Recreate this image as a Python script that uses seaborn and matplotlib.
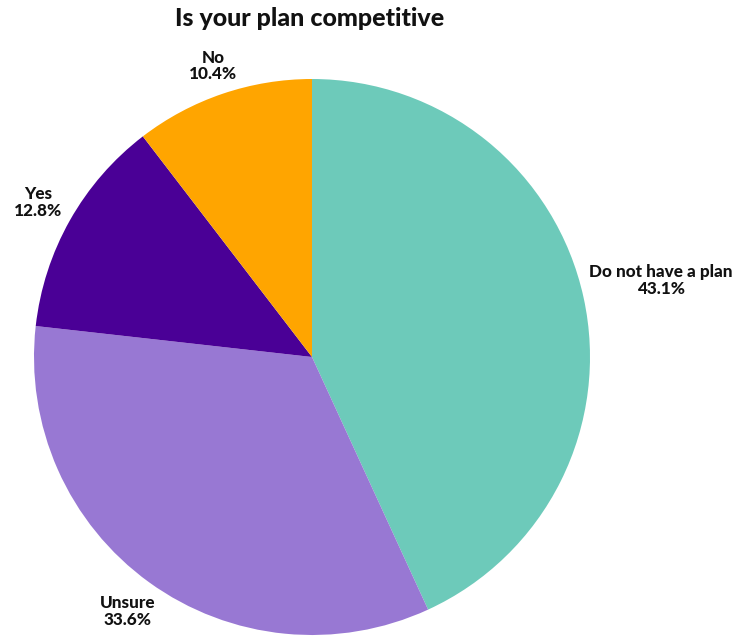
import numpy as np
import matplotlib
matplotlib.use("Agg")
import matplotlib.pyplot as plt
import seaborn as sns

sns.set_theme(style="white")
plt.rcParams["font.family"] = ["Lato", "DejaVu Sans"]

categories = ["Do not have a plan", "Unsure", "Yes", "No"]
shares = [43.1, 33.6, 12.8, 10.4]
colors = ["#6DCABA", "#9878D3", "#4A0096", "#FFA500"]
label_dist = [1.285, 1.13, 1.13, 1.105]

W, H = 733, 637
fig = plt.figure(figsize=(W / 100, H / 100), dpi=100)
ax = fig.add_axes([0, 0, 1, 1])

cx, cy, r = 312, H - 357, 278
wedges, _ = ax.pie(shares, colors=colors, startangle=90, counterclock=False,
                   center=(cx, cy), radius=r, frame=True,
                   wedgeprops=dict(linewidth=0))
ax.set_xlim(0, W)
ax.set_ylim(0, H)
ax.set_aspect("equal")
ax.axis("off")

for w, name, val, d in zip(wedges, categories, shares, label_dist):
    mid = np.deg2rad((w.theta1 + w.theta2) / 2)
    x = cx + d * r * np.cos(mid)
    y = cy + d * r * np.sin(mid)
    ax.text(x, y, f"{name}\n{val}%", ha="center", va="center",
            fontsize=12.3, fontweight="black", color="#111111",
            linespacing=1.05)

ax.text(310, H - 18, "Is your plan competitive", ha="center", va="center",
        fontsize=18, fontweight="black", color="#111111")

fig.savefig("out.png", dpi=100)
